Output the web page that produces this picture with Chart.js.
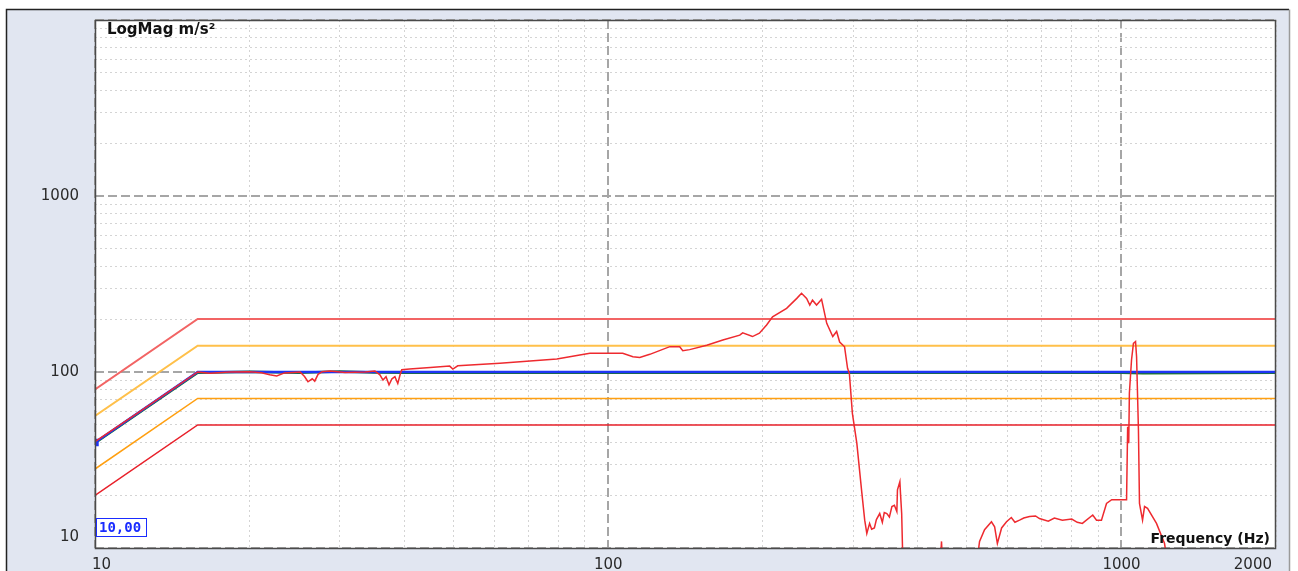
<!DOCTYPE html>
<html>
<head>
<meta charset="utf-8">
<script src="https://cdn.jsdelivr.net/npm/chart.js@4"></script>
<style>
  body { margin: 0; background: #fff; }
  canvas { display: block; }
</style>
</head>
<body>
<canvas id="SineChart" width="1298" height="571"></canvas>
<script>
// axis ticks
const xTicks = [10, 20, 30, 40, 50, 60, 70, 80, 90, 100, 200, 300, 400, 500, 600, 700, 800, 900, 1000, 2000];
const yTicks = [10, 20, 30, 40, 50, 60, 70, 80, 90, 100, 200, 300, 400, 500, 600, 700, 800, 900,
                1000, 2000, 3000, 4000, 5000, 6000, 7000, 8000, 9000, 10000];
const xMajor = [10, 100, 1000];
const yMajor = [10, 100, 1000, 10000];
const xLabels = ['10', '100', '1000', '2000'];
const yLabels = ['10', '100', '1000'];

// profile + limits (m/s2)
const limitFreq = [10, 15.85, 2000];
const abortHigh = [79.6, 200, 200];
const alarmHigh = [56.2, 141, 141];
const reference = [39.8, 100, 100];
const alarmLow = [28.1, 70.8, 70.8];
const abortLow = [19.9, 50, 50];

// control signal
const controlFreq = [10, 15.85, 20, 25, 30, 35, 40, 1000, 1100, 2000];
const controlVal = [39.5, 99, 100.4, 99, 100.5, 99.2, 99, 99, 98.5, 99];

// measured response
const measFreq = [10, 12, 14, 15.85, 16.75, 18.3, 20.0, 21.1, 21.9, 22.6, 23.4, 25.1, 25.6, 26.0, 26.5, 26.8, 27.2, 27.7,
  28.7, 30.7, 33.6, 35.1, 35.9, 36.4, 36.9, 37.4, 37.9, 38.4, 38.9, 39.3, 39.6, 41.0,
  45, 49.1, 49.8, 50.9, 61.5, 79.4, 88, 92.1, 106.7, 111.7, 115.2, 120.5, 131.8, 137.8, 139.7, 144.1,
  155.6, 167.2, 180.4, 182.8, 191, 197, 203.5, 209, 222.6, 233, 238, 243.5, 247, 250, 254.6, 260.4,
  266.5, 273.8, 278.6, 282.4, 288.7, 292.6, 295, 299, 305, 312, 316, 319, 323, 326, 330, 333, 338,
  342, 345, 349, 353, 357, 361, 365, 366, 370, 371, 373, 376, 441, 446, 450, 515, 529, 541, 558,
  566, 573, 584, 597, 610, 620, 633, 645, 662, 680, 692, 720, 740, 767, 800, 820, 839, 879, 894,
  914, 935, 957, 1005, 1023, 1028, 1033, 1036, 1046, 1055, 1065, 1070, 1079, 1084, 1099, 1109,
  1124, 1170, 1213, 1250];
const measVal = [40.2, 57.5, 78, 100, 98.3, 100, 100.4, 99.1, 96.4, 95, 98.8, 100, 94.3, 88, 91.5, 88.7, 97, 100.4,
  101.3, 99.5, 100, 101.3, 96.4, 90, 94, 84.6, 91.5, 94, 86, 96.4, 103, 104,
  106, 108, 104, 108.5, 112, 118.6, 125, 127.7, 127.7, 122, 121, 126, 139.3, 139, 132, 134,
  142, 152, 162, 167, 159, 166, 185, 206, 230, 262, 280, 262, 240, 256, 240, 259,
  189, 159, 170, 148, 139, 105, 98, 58.2, 39.4, 20.5, 14.4, 12.1, 13.8, 12.8, 13, 14.5, 15.7,
  14.0, 15.9, 15.7, 15.0, 17.2, 17.5, 16.1, 21.4, 23.8, 20.5, 15.7, 6, 6, 10.9, 6, 6, 10.9, 12.7, 14.1,
  13.2, 10.6, 13, 14.1, 14.9, 14.0, 14.4, 14.8, 15.1, 15.2, 14.7, 14.2, 14.8, 14.4, 14.6, 14.0, 13.8, 15.4, 14.4,
  14.4, 17.9, 18.8, 18.8, 18.8, 48.9, 39.4, 75.7, 117, 145.5, 149, 122, 46.8, 17.9, 14.4, 17.2,
  16.8, 13.8, 10.6, 6];

function pts(xs, ys) {
  return xs.map((f, i) => ({ x: f, y: ys[i] }));
}

// order: lower number is drawn on top
function line(data, color, width, order, extra) {
  return Object.assign({
    data: data,
    borderColor: color,
    backgroundColor: color,
    borderWidth: width,
    pointRadius: 0,
    tension: 0,
    fill: false,
    order: order
  }, extra || {});
}

const frame = {
  id: 'frame',
  beforeDraw(chart) {
    const c = chart.ctx;
    const a = chart.chartArea;
    c.save();
    c.fillStyle = '#ffffff';
    c.fillRect(0, 0, chart.width, chart.height);
    c.fillStyle = '#e1e6f1';
    c.fillRect(6, 9, 1283, 570);
    c.strokeStyle = '#222';
    c.lineWidth = 1.5;
    c.beginPath();
    c.moveTo(6.5, 580); c.lineTo(6.5, 9.5); c.lineTo(1289, 9.5);
    c.stroke();
    c.strokeStyle = '#9a9a9a';
    c.beginPath();
    c.moveTo(1289.5, 9.5); c.lineTo(1289.5, 580);
    c.stroke();
    c.fillStyle = '#ffffff';
    c.fillRect(a.left, a.top, a.right - a.left, a.bottom - a.top);
    c.restore();
  },
  afterDraw(chart) {
    const c = chart.ctx;
    const a = chart.chartArea;
    const xs = chart.scales.x;
    const ys = chart.scales.y;
    c.save();
    // plot border
    c.strokeStyle = '#4a4a4a';
    c.lineWidth = 1.5;
    c.strokeRect(a.left + 0.5, a.top + 0.5, a.right - a.left - 1, a.bottom - a.top);

    // tick labels
    c.fillStyle = '#2a2a2a';
    c.font = '15px "DejaVu Sans"';
    c.textBaseline = 'middle';
    c.textAlign = 'right';
    yLabels.forEach(t => {
      let y = ys.getPixelForValue(Number(t));
      if (y > a.bottom - 11) y = a.bottom - 11;
      c.fillText(t, 79, y);
    });
    c.textAlign = 'left';
    xLabels.forEach(t => {
      const w = c.measureText(t).width;
      let x = xs.getPixelForValue(Number(t)) - w / 2;
      if (x < a.left - 3) x = a.left - 3;
      if (x + w > a.right - 4) x = a.right - 4 - w;
      c.fillText(t, x, 565);
    });

    // axis titles
    c.fillStyle = '#111';
    c.font = 'bold 15px "DejaVu Sans"';
    c.textAlign = 'left';
    c.fillText('LogMag m/s²', a.left + 12, a.top + 10);
    c.font = 'bold 14px "DejaVu Sans"';
    c.textAlign = 'right';
    c.fillText('Frequency (Hz)', a.right - 6, a.bottom - 9);

    // cursor value box
    c.fillStyle = '#fff';
    c.fillRect(a.left + 1, a.bottom - 30, 50, 18);
    c.strokeStyle = '#1a2cff';
    c.lineWidth = 1;
    c.strokeRect(a.left + 1.5, a.bottom - 29.5, 50, 18);
    c.fillStyle = '#1a2cff';
    c.font = 'bold 14px "DejaVu Sans Mono"';
    c.textAlign = 'left';
    c.fillText('10,00', a.left + 4, a.bottom - 20);
    c.restore();
  }
};

const ctx = document.getElementById('SineChart').getContext('2d');

const config = {
  type: 'line',
  data: {
    datasets: [
      line(pts(measFreq, measVal), '#ee2a2f', 1.5, 0),
      line(pts(limitFreq, reference), '#1f35f5', 2.5, 1, {
        pointRadius: c => c.dataIndex === 0 ? 3.5 : 0,
        pointStyle: 'rect'
      }),
      line(pts(controlFreq, controlVal), '#1b7a1b', 2.5, 2),
      line(pts(limitFreq, abortHigh), '#f26464', 2, 3),
      line(pts(limitFreq, alarmHigh), '#ffc04a', 2, 4),
      line(pts(limitFreq, alarmLow), '#ff9f10', 1.5, 5),
      line(pts(limitFreq, abortLow), '#e8202a', 1.5, 6)
    ]
  },
  options: {
    responsive: false,
    animation: false,
    layout: {
      padding: { left: 95, top: 20, right: 22, bottom: 23 }
    },
    plugins: {
      legend: { display: false },
      tooltip: { enabled: false }
    },
    scales: {
      x: {
        type: 'logarithmic',
        min: 10,
        max: 2000,
        afterBuildTicks: s => { s.ticks = xTicks.map(v => ({ value: v })); },
        ticks: { display: false },
        grid: {
          drawTicks: false,
          color: c => xMajor.includes(c.tick && c.tick.value) ? '#a6a6a6' : '#d4d4d4',
          lineWidth: c => xMajor.includes(c.tick && c.tick.value) ? 2 : 1
        },
        border: {
          display: false,
          dash: c => xMajor.includes(c.tick && c.tick.value) ? [9, 4] : [2, 3]
        }
      },
      y: {
        type: 'logarithmic',
        min: 10,
        max: 10000,
        afterBuildTicks: s => { s.ticks = yTicks.map(v => ({ value: v })); },
        ticks: { display: false },
        grid: {
          drawTicks: false,
          color: c => yMajor.includes(c.tick && c.tick.value) ? '#a6a6a6' : '#d4d4d4',
          lineWidth: c => yMajor.includes(c.tick && c.tick.value) ? 2 : 1
        },
        border: {
          display: false,
          dash: c => yMajor.includes(c.tick && c.tick.value) ? [9, 4] : [2, 3]
        }
      }
    }
  },
  plugins: [frame]
};

const sineChart = new Chart(ctx, config);
</script>
</body>
</html>
